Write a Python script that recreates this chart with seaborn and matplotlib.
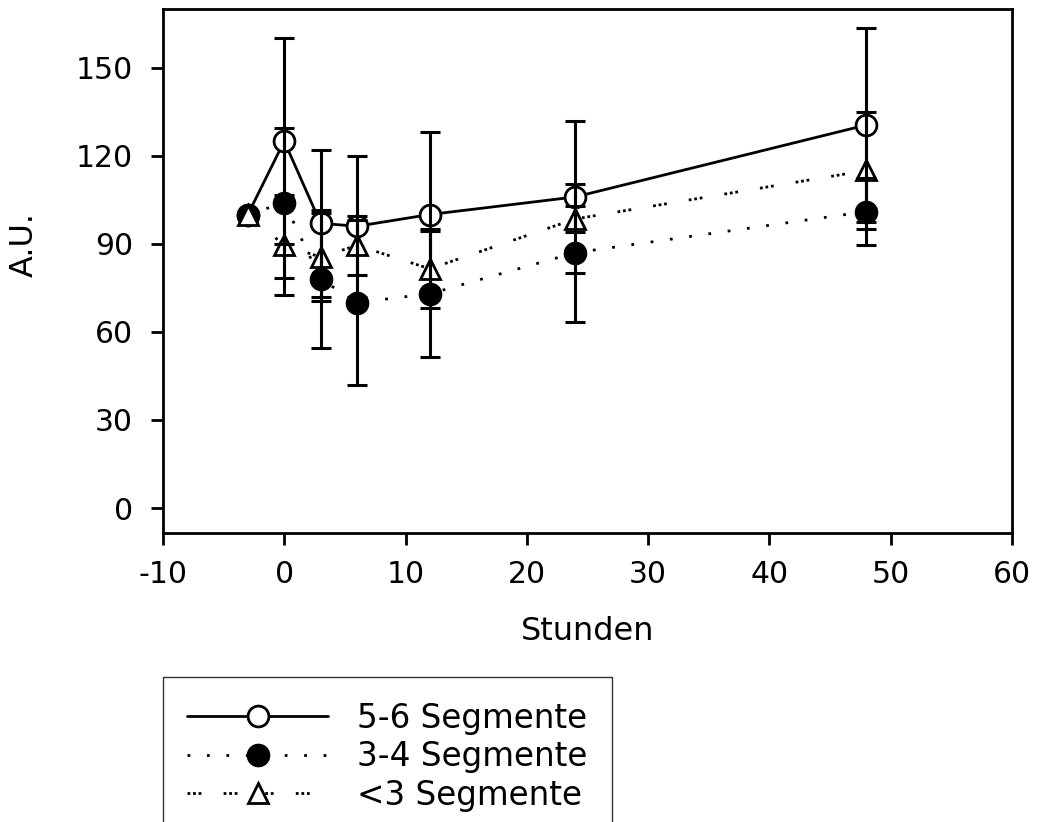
import numpy as np
import pandas as pd
import matplotlib
matplotlib.use("Agg")
import matplotlib.pyplot as plt
import seaborn as sns

# ---- data ----
hours = [-3, 0, 3, 6, 12, 24, 48]
seg56 = [100, 125, 97, 96, 100, 106, 130.5]
seg56_err = [0, 35, 25, 24, 28, 26, 33]
seg34 = [100, 104, 78, 70, 73, 87, 101]
seg34_err = [0, 25.5, 23.5, 28, 21.5, 23.5, 11.5]
seg3 = [100, 89.5, 85.5, 89.5, 81.5, 98.5, 115]
seg3_err = [0, 17, 15, 10, 13.5, 4.5, 20]
labels = ["5-6 Segmente", "3-4 Segmente", "<3 Segmente"]
xticks = [-10, 0, 10, 20, 30, 40, 50, 60]
yticks = [0, 30, 60, 90, 120, 150]

sns.set_style("ticks")
plt.rcParams["font.family"] = ["DejaVu Sans"]
plt.rcParams["axes.unicode_minus"] = False
plt.rcParams["text.color"] = "black"
plt.rcParams["axes.labelcolor"] = "black"
plt.rcParams["xtick.color"] = "black"
plt.rcParams["ytick.color"] = "black"

fig = plt.figure(figsize=(10.4, 8.22), dpi=100)
ax = fig.add_axes([0.1567, 0.3516, 0.8163, 0.6374])

series = [
    (seg56, seg56_err, labels[0], "-", "o", "white"),
    (seg34, seg34_err, labels[1], (0, (1.0, 6.0)), "o", "black"),
    (seg3, seg3_err, labels[2], (0, (1.0, 1.0, 1.0, 1.0, 1.0, 8.0)), "^", "white"),
]

handles = []
for vals, errs, lab, ls, mk, fc in series:
    df = pd.DataFrame({"Stunden": hours, "A.U.": vals})
    sns.lineplot(data=df, x="Stunden", y="A.U.", ax=ax, color="black",
                 linestyle=ls, linewidth=2.0, marker=mk, markersize=15,
                 markerfacecolor=fc, markeredgecolor="black",
                 markeredgewidth=2.0, label=lab, zorder=2)
    handles.append(ax.lines[-1])
    ax.errorbar(hours[1:], vals[1:], yerr=errs[1:], fmt="none", ecolor="black",
                elinewidth=2.2, capsize=7.3, capthick=2.2, zorder=3)

ax.set_xlim(-10, 60)
ax.set_ylim(-8.5, 170)
ax.set_xticks(xticks)
ax.set_yticks(yticks)
ax.set_xlabel("Stunden", fontsize=23, color="black")
ax.set_ylabel("A.U.", fontsize=23, color="black")
ax.xaxis.set_label_coords(0.5, -0.158)
ax.yaxis.set_label_coords(-0.145, 0.55)
for s in ax.spines.values():
    s.set_linewidth(2.0)
    s.set_color("black")
ax.tick_params(direction="out", length=8.5, width=2.0, labelsize=21.5,
               colors="black", labelcolor="black")
ax.tick_params(axis="y", pad=13)
ax.tick_params(axis="x", pad=11)

ax.get_legend().remove()
leg = fig.legend(handles=handles, labels=labels, loc="upper left",
                 bbox_to_anchor=(0.1567, 0.176), bbox_transform=fig.transFigure,
                 fontsize=23.5, handlelength=4.3, handletextpad=0.9,
                 labelspacing=0.17, borderpad=0.75, borderaxespad=0,
                 fancybox=False, frameon=True, labelcolor="black")
leg.get_frame().set_edgecolor("black")
leg.get_frame().set_linewidth(1.0)

fig.savefig("out.png", dpi=100)
